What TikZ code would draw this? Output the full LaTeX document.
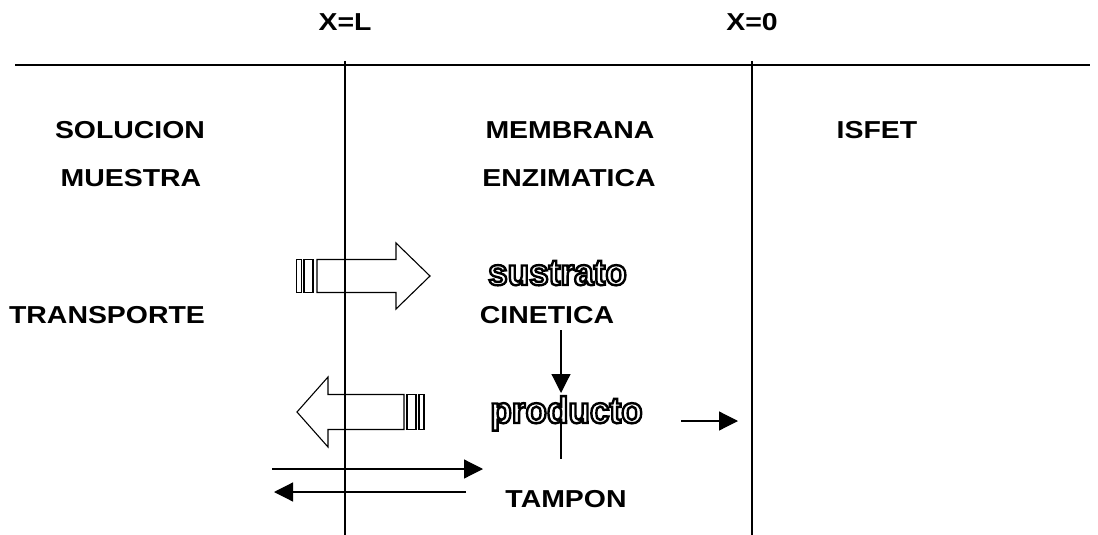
\documentclass[tikz,border=0pt]{standalone}
\usepackage{fontspec}
\setmainfont{Liberation Sans}[FakeStretch=1.16]
\newfontfamily\hollowfont{Liberation Sans}[FakeStretch=0.95]
\usetikzlibrary{arrows.meta,calc}

% outlined lettering: letters filled white and stroked black
\newcommand\hollowword[3]{%
  \node[outw] (#1) at (#2)
    {\special{pdf:literal direct 2 Tr 2.4 w 0 G}#3\special{pdf:literal direct 0 Tr}};
}

\begin{document}
\begin{tikzpicture}[x=1pt, y=-1pt,
  lbl/.style={font=\bfseries\fontsize{24.5}{24.5}\selectfont, inner sep=0pt},
  outw/.style={font=\hollowfont\bfseries\fontsize{37}{37}\selectfont, anchor=base,
               inner sep=0pt, text=white},
  rule/.style={line width=1.4pt},
  wall/.style={line width=1.2pt},
  flux/.style={line width=1.2pt, -{Triangle[length=19pt,width=19pt]}},
  hollow/.style={line width=1.1pt, line join=miter},
]
\useasboundingbox (0,0) rectangle (1098,535);

% frame: interface line and the two boundaries
\coordinate (hl) at (15,65);
\coordinate (hr) at (1090,65);
\coordinate (lt) at (345,61);
\coordinate (lb) at (345,535);
\coordinate (rt) at (752,61);
\coordinate (rb) at (752,535);
\draw[rule] (hl) -- (hr);
\draw[wall] (lt) -- (lb);
\draw[wall] (rt) -- (rb);

% headings
\node[lbl] (xl) at (345,22) {X=L};
\node[lbl] (x0) at (752,22) {X=0};
\node[lbl] (sol) at (130,130) {SOLUCION};
\node[lbl] (mue) at (131,178) {MUESTRA};
\node[lbl] (mem) at (570,130) {MEMBRANA};
\node[lbl] (enz) at (569,178) {ENZIMATICA};
\node[lbl] (isf) at (877,130) {ISFET};
\node[lbl] (tra) at (107,315) {TRANSPORTE};
\node[lbl] (cin) at (547,315) {CINETICA};
\node[lbl] (tam) at (566,499) {TAMPON};

% hollow block arrow pointing into the membrane
\draw[hollow] (296.7,259.5) rectangle (301.7,292.5);
\draw[hollow] (304,259.5) rectangle (313,292.5);
\draw[hollow] (317,259.5) -- (396,259.5) -- (396,243) -- (430,276)
              -- (396,309) -- (396,292.5) -- (317,292.5) -- cycle;

% hollow block arrow pointing out of the membrane
\draw[hollow] (419,394.5) rectangle (424,429.5);
\draw[hollow] (407,394.5) rectangle (416,429.5);
\draw[hollow] (404,394.5) -- (328,394.5) -- (328,377) -- (297,412)
              -- (328,447) -- (328,429.5) -- (404,429.5) -- cycle;

% stem below the product
\coordinate (st) at (561,420);
\coordinate (sb) at (561,459);
\draw[wall] (st) -- (sb);

% outlined species names
\hollowword{sus}{557.5,285}{sustrato}
\hollowword{pro}{566.5,423}{producto}

% kinetics produces product
\coordinate (ca) at (561,330);
\coordinate (cb) at (561,393);
\draw[flux] (ca) -- (cb);

% product towards the ISFET
\coordinate (pa) at (681,421);
\coordinate (pb) at (738,421);
\draw[flux] (pa) -- (pb);

% buffer exchange
\coordinate (ba) at (272,469);
\coordinate (bb) at (483,469);
\coordinate (bc) at (466,492);
\coordinate (bd) at (274,492);
\draw[flux] (ba) -- (bb);
\draw[flux] (bc) -- (bd);
\end{tikzpicture}
\end{document}
